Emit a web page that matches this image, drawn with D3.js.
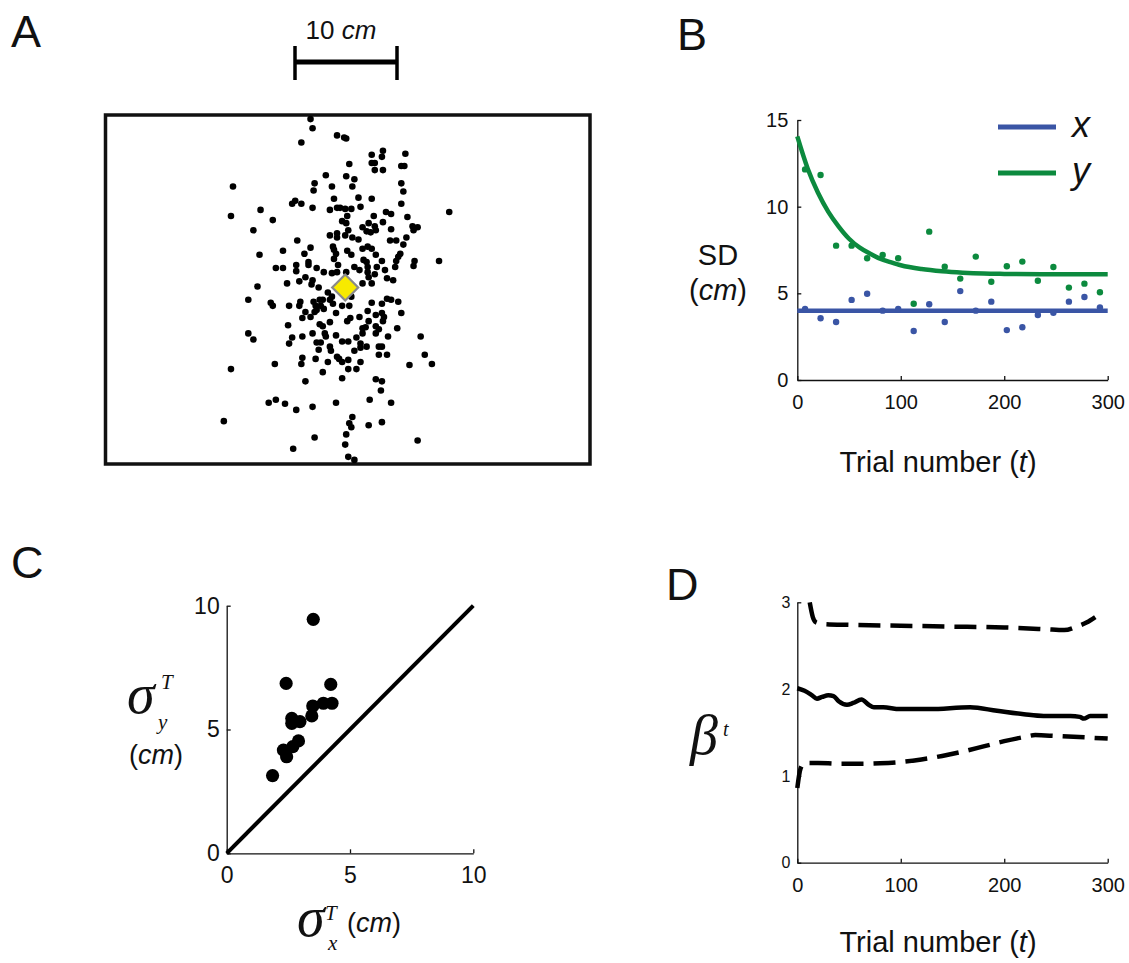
<!DOCTYPE html>
<html>
<head>
<meta charset="utf-8">
<script src="https://cdn.jsdelivr.net/npm/d3@7"></script>
<style>
  body { margin: 0; background: #fff; }
  text { font-family: "Liberation Sans", Arial, Helvetica, sans-serif; fill: #111; }
  .serif { font-family: "Liberation Serif", "Times New Roman", serif; font-style: italic; }
</style>
</head>
<body>
<svg id="fig" width="1129" height="963"></svg>
<script>
// ---- data ----
// panel A: reach endpoints relative to the target (cm)
const endpoints = [
  [-3.4,16.5],[-3.2,15.6],[-0.8,14.9],[-0.1,14.7],[0.1,14.6],[-4.3,14.2],[3.7,13.4],[2.6,13.0],[3.6,12.8],[5.9,13.1],
  [2.6,12.2],[2.9,12.2],[0.4,12.1],[5.5,11.9],[5.8,11.9],[2.9,11.5],[3.7,11.5],[-1.9,11.0],[0.1,10.9],[0.9,10.6],
  [-3.0,10.2],[5.5,10.2],[-11.0,9.9],[-1.3,9.9],[0.7,9.9],[-3.1,9.5],[5.7,9.4],[1.3,8.8],[-1.1,8.7],[2.6,8.7],
  [-5.2,8.2],[-4.9,8.5],[-4.3,8.2],[5.5,8.2],[-3.2,7.8],[-8.3,7.6],[-1.5,7.6],[-0.8,7.8],[-0.5,7.8],[0.0,7.7],
  [0.6,7.7],[1.5,7.9],[-11.2,7.0],[-7.1,6.6],[0.2,7.0],[2.8,7.0],[4.0,7.4],[4.5,7.2],[6.1,6.9],[-0.3,6.5],
  [0.1,6.3],[3.7,6.4],[2.3,6.3],[-9.0,5.6],[1.7,5.9],[2.9,6.0],[2.1,5.5],[2.5,5.4],[3.0,5.6],[4.5,5.7],
  [6.6,6.0],[7.1,5.9],[6.7,5.6],[-1.5,5.1],[-0.8,5.3],[0.0,5.1],[0.3,5.6],[-4.7,4.6],[-0.8,4.9],[0.7,4.9],
  [1.3,4.7],[4.4,4.6],[5.0,4.6],[6.0,4.9],[-3.4,3.9],[-1.2,4.0],[-6.1,3.6],[0.2,3.6],[1.7,3.8],[2.2,4.0],
  [2.6,3.8],[5.7,4.2],[-8.4,3.2],[-4.0,3.3],[-1.1,3.7],[-0.9,3.3],[0.6,3.2],[3.0,3.2],[5.4,3.3],[5.2,3.0],
  [-3.6,2.5],[-1.1,2.8],[-3.6,2.2],[1.8,2.7],[2.1,2.5],[3.6,2.6],[5.0,2.6],[6.8,2.6],[9.2,2.6],[-6.8,1.9],
  [-6.1,1.9],[-4.8,2.2],[-2.8,1.9],[-0.7,2.2],[0.9,2.0],[1.4,1.7],[2.2,2.0],[3.9,1.7],[4.9,2.0],[6.7,2.1],
  [-4.8,1.6],[-2.1,1.5],[-1.3,1.4],[-0.8,1.5],[0.1,1.5],[2.2,1.5],[2.9,1.3],[-3.9,1.0],[-3.2,0.7],[2.3,1.0],
  [4.1,0.9],[4.7,0.7],[-5.7,0.4],[-4.5,0.6],[-3.3,0.3],[-2.6,0.0],[1.7,0.4],[2.6,0.4],[-8.6,0.1],[-1.7,-0.5],
  [-1.3,-0.9],[0.6,-0.9],[-2.2,-1.2],[-1.5,-1.2],[-2.5,-1.2],[-9.5,-1.2],[-7.3,-1.5],[-7.1,-1.8],[-5.5,-1.8],[-4.4,-1.4],
  [-4.5,-1.8],[-3.1,-1.4],[-2.9,-1.8],[-1.2,-1.6],[-0.3,-1.8],[0.4,-1.8],[2.6,-1.5],[3.6,-1.6],[4.1,-1.1],[4.5,-1.2],
  [5.2,-1.4],[-3.9,-2.4],[-2.8,-2.2],[-3.4,-2.9],[-4.2,-3.0],[-0.9,-2.5],[-3.0,-2.4],[1.4,-2.9],[2.2,-2.3],[3.0,-2.7],
  [3.6,-2.5],[3.8,-2.9],[5.5,-2.5],[-1.5,-3.4],[-2.5,-3.6],[-2.2,-3.8],[0.2,-3.3],[0.5,-3.0],[2.3,-3.3],[3.7,-3.3],
  [3.0,-3.8],[-5.6,-3.7],[2.0,-3.9],[1.7,-4.0],[3.3,-4.1],[5.1,-4.0],[-9.5,-4.5],[-9.0,-5.1],[-4.2,-4.8],[-3.2,-4.5],
  [-2.0,-4.5],[-1.9,-4.8],[-0.9,-4.7],[1.7,-4.5],[3.0,-4.5],[4.2,-4.8],[7.4,-4.8],[-5.2,-4.9],[-5.5,-5.5],[-2.8,-5.4],
  [-2.4,-5.4],[-0.3,-5.3],[0.3,-5.3],[1.1,-4.9],[1.5,-5.5],[2.1,-5.8],[3.3,-5.8],[3.6,-5.8],[-2.6,-6.1],[-1.5,-5.8],
  [-1.4,-6.2],[0.9,-6.2],[1.5,-5.9],[3.3,-6.6],[4.1,-6.6],[7.8,-6.6],[-4.2,-6.9],[-2.9,-7.0],[-0.8,-6.8],[-0.6,-7.0],
  [0.3,-7.1],[-0.3,-7.3],[-6.9,-7.5],[-4.3,-7.5],[-1.7,-7.3],[1.5,-7.3],[6.3,-7.6],[8.5,-7.5],[-11.2,-8.0],[-2.2,-8.3],
  [0.3,-8.0],[1.1,-8.0],[-0.3,-8.9],[-3.9,-9.2],[3.0,-9.0],[3.6,-9.2],[3.5,-10.1],[-7.5,-11.3],[-6.8,-11.0],[-5.9,-11.4],
  [-4.8,-12.0],[-3.2,-11.7],[-0.9,-11.3],[2.4,-11.0],[4.5,-11.3],[-11.9,-13.1],[0.7,-12.7],[0.4,-13.3],[0.6,-13.7],[2.3,-13.5],
  [3.6,-13.2],[0.1,-14.4],[-3.0,-14.7],[7.1,-15.0],[-5.1,-15.8],[0.0,-15.4],[0.3,-16.6],[0.9,-16.9],
  [10.2,7.4],[3.1,2.0],[-2.4,-1.8],[-2.1,-2.1]
];
const workspaceX = [-23.5, 24.0];   // cm
const workspaceY = [-17.3, 16.9];   // cm
const scaleBarCm = 10;

// panel B: SD per block of 15 trials
const blockTrials = [7.5,22.5,37.5,52.5,67.5,82.5,97.5,112.5,127.5,142.5,157.5,172.5,187.5,202.5,217.5,232.5,247.5,262.5,277.5,292.5];
const sdX = [4.10,3.56,3.35,4.62,4.98,4.00,4.10,2.83,4.37,3.35,5.13,4.00,4.52,2.88,3.04,3.75,3.88,4.52,4.79,4.19];
const sdY = [12.15,11.83,7.75,7.75,7.02,7.21,7.02,4.40,8.56,6.54,5.85,7.12,5.67,6.56,6.83,5.73,6.52,5.33,5.56,5.06];
const fitTrials = [0,10,20,30,40,50,60,70,80,90,100,120,140,160,180,200,250,300];
const fitY = [14.05,12.2,10.8,9.7,8.85,8.15,7.65,7.3,7.0,6.8,6.62,6.4,6.27,6.19,6.14,6.12,6.1,6.1];
const fitX = [4.0,4.0,4.0,4.0,4.0,4.0,4.0,4.0,4.0,4.0,4.0,4.0,4.0,4.0,4.0,4.0,4.0,4.0];
const sdTicks = [0,5,10,15];
const trialTicks = [0,100,200,300];

// panel C: per-subject sigma_x vs sigma_y (cm)
const sigmaX = [3.51,2.41,4.22,3.49,3.92,4.27,3.45,2.64,2.64,2.97,2.91,2.68,2.30,2.43,1.86];
const sigmaY = [9.45,6.86,6.82,5.95,6.06,6.06,5.55,5.45,5.25,5.32,4.54,4.31,4.17,3.90,3.14];
const sigmaTicks = [0,5,10];

// panel D: beta estimate and bounds over trials
const betaT = [0,7,14,19,24,30,35,40,48,54,62,69,74,83,99,128,167,193,219,238,264,273,277,283,300];
const betaMean = [2.01,1.98,1.93,1.89,1.91,1.93,1.92,1.86,1.82,1.84,1.88,1.82,1.79,1.79,1.77,1.77,1.79,1.75,1.71,1.69,1.69,1.68,1.66,1.69,1.69];
const upperT = [12,15,18,25,50,100,150,200,240,258,270,280,288];
const upperB = [3.0,2.83,2.77,2.75,2.74,2.73,2.72,2.71,2.69,2.68,2.72,2.77,2.83];
const lowerT = [0,3,7,20,40,60,80,100,120,140,160,180,200,220,230,250,300];
const lowerB = [0.86,1.08,1.15,1.15,1.14,1.14,1.145,1.16,1.19,1.23,1.28,1.34,1.40,1.45,1.47,1.46,1.43];
const betaTicks = [0,1,2,3];

const blue = '#3a55a5', green = '#0c8a3e';

// ---- drawing ----
const svg = d3.select('#fig');
svg.append('rect').attr('width', 1129).attr('height', 963).attr('fill', '#fff');

function panelLabel(txt, x, y) {
  svg.append('text').attr('x', x).attr('y', y).attr('font-size', 45).text(txt);
}
panelLabel('A', 11, 47);
panelLabel('B', 677, 50);
panelLabel('C', 11, 578);
panelLabel('D', 666, 600);

function styleAxis(g, fs) {
  g.select('.domain').attr('stroke', '#111').attr('stroke-width', 1.3);
  g.selectAll('.tick line').attr('stroke', '#111').attr('stroke-width', 1.3);
  g.selectAll('.tick text').attr('font-size', fs).attr('fill', '#111')
    .style('font-family', '"Liberation Sans", Arial, sans-serif');
}
const fmt = d3.format('d');

// Panel A
const xA = d3.scaleLinear().domain(workspaceX).range([105.5, 590]);
const yA = d3.scaleLinear().domain(workspaceY).range([464, 115]);
const gA = svg.append('g');
gA.append('rect')
  .attr('x', xA(workspaceX[0])).attr('y', yA(workspaceY[1]))
  .attr('width', xA(workspaceX[1]) - xA(workspaceX[0]))
  .attr('height', yA(workspaceY[0]) - yA(workspaceY[1]))
  .attr('fill', 'none').attr('stroke', '#111').attr('stroke-width', 3.5);
gA.selectAll('circle.ep').data(endpoints).enter().append('circle')
  .attr('class', 'ep')
  .attr('cx', d => xA(d[0])).attr('cy', d => yA(d[1]))
  .attr('r', 3.3).attr('fill', '#000');
const tx = xA(0), ty = yA(0), h = 13;
gA.append('path')
  .attr('d', `M${tx},${ty - h}L${tx + h},${ty}L${tx},${ty + h}L${tx - h},${ty}Z`)
  .attr('fill', '#f7ea00').attr('stroke', '#8a8a8a').attr('stroke-width', 2.2);
// scale bar
const bx0 = 295, barLen = xA(scaleBarCm) - xA(0), by = 62;
gA.append('line').attr('x1', bx0).attr('x2', bx0 + barLen).attr('y1', by).attr('y2', by)
  .attr('stroke', '#000').attr('stroke-width', 5);
[bx0, bx0 + barLen].forEach(x => gA.append('line')
  .attr('x1', x).attr('x2', x).attr('y1', by - 16).attr('y2', by + 18)
  .attr('stroke', '#000').attr('stroke-width', 3.5));
const sbt = gA.append('text').attr('x', bx0 + barLen / 2 - 5).attr('y', 39)
  .attr('text-anchor', 'middle').attr('font-size', 26);
sbt.append('tspan').text('10 ');
sbt.append('tspan').attr('font-style', 'italic').text('cm');

// Panel B
const xB = d3.scaleLinear().domain([0, 300]).range([797.3, 1107.7]);
const yB = d3.scaleLinear().domain([0, 15]).range([380, 120]);
const gB = svg.append('g');
gB.append('g').attr('transform', `translate(0,${yB(0)})`)
  .call(d3.axisBottom(xB).tickValues(trialTicks).tickFormat(fmt).tickSizeInner(-4).tickSizeOuter(0).tickPadding(15))
  .call(g => styleAxis(g, 20));
gB.append('g').attr('transform', `translate(${xB(0)},0)`)
  .call(d3.axisLeft(yB).tickValues(sdTicks).tickFormat(fmt).tickSizeInner(-4).tickSizeOuter(0).tickPadding(9))
  .call(g => styleAxis(g, 20));
const lineB = d3.line().curve(d3.curveMonotoneX);
gB.append('path').datum(fitTrials.map((t, i) => [xB(t), yB(fitX[i])]))
  .attr('d', lineB).attr('fill', 'none').attr('stroke', blue).attr('stroke-width', 4.5);
gB.append('path').datum(fitTrials.map((t, i) => [xB(t), yB(fitY[i])]))
  .attr('d', lineB).attr('fill', 'none').attr('stroke', green).attr('stroke-width', 4.5);
gB.selectAll('circle.sx').data(blockTrials).enter().append('circle')
  .attr('class', 'sx').attr('cx', d => xB(d)).attr('cy', (d, i) => yB(sdX[i]))
  .attr('r', 3.2).attr('fill', blue);
gB.selectAll('circle.sy').data(blockTrials).enter().append('circle')
  .attr('class', 'sy').attr('cx', d => xB(d)).attr('cy', (d, i) => yB(sdY[i]))
  .attr('r', 3.2).attr('fill', green);
// legend
[['x', blue, 127], ['y', green, 173]].forEach(([lab, col, y]) => {
  gB.append('line').attr('x1', 998).attr('x2', 1056).attr('y1', y).attr('y2', y)
    .attr('stroke', col).attr('stroke-width', 5);
  gB.append('text').attr('x', 1072).attr('y', y + 10).attr('font-size', 36)
    .attr('font-style', 'italic').text(lab);
});
gB.append('text').attr('x', 718).attr('y', 265).attr('text-anchor', 'middle')
  .attr('font-size', 29).text('SD');
const cmB = gB.append('text').attr('x', 718).attr('y', 300).attr('text-anchor', 'middle').attr('font-size', 29);
cmB.append('tspan').text('(');
cmB.append('tspan').attr('font-style', 'italic').text('cm');
cmB.append('tspan').text(')');
function trialLabel(g, y) {
  const t = g.append('text').attr('x', 938).attr('y', y).attr('text-anchor', 'middle').attr('font-size', 29);
  t.append('tspan').text('Trial number (');
  t.append('tspan').attr('font-style', 'italic').text('t');
  t.append('tspan').text(')');
}
trialLabel(gB, 472);

// Panel C
const xC = d3.scaleLinear().domain([0, 10]).range([226.7, 473.3]);
const yC = d3.scaleLinear().domain([0, 10]).range([853.3, 605.7]);
const gC = svg.append('g');
gC.append('g').attr('transform', `translate(0,${yC(0)})`)
  .call(d3.axisBottom(xC).tickValues(sigmaTicks).tickFormat(fmt).tickSizeInner(-4).tickSizeOuter(0).tickPadding(13))
  .call(g => styleAxis(g, 23));
gC.append('g').attr('transform', `translate(${xC(0)},0)`)
  .call(d3.axisLeft(yC).tickValues(sigmaTicks).tickFormat(fmt).tickSizeInner(-4).tickSizeOuter(0).tickPadding(7))
  .call(g => styleAxis(g, 23));
gC.append('line').attr('x1', xC(0)).attr('y1', yC(0)).attr('x2', xC(10)).attr('y2', yC(10))
  .attr('stroke', '#000').attr('stroke-width', 4);
gC.selectAll('circle.sg').data(sigmaX).enter().append('circle')
  .attr('class', 'sg').attr('cx', d => xC(d)).attr('cy', (d, i) => yC(sigmaY[i]))
  .attr('r', 6.6).attr('fill', '#000');
// y label
gC.append('text').attr('class', 'serif').attr('x', 127).attr('y', 713).attr('font-size', 56).text('σ');
gC.append('text').attr('class', 'serif').attr('x', 158).attr('y', 729).attr('font-size', 21).text('y');
gC.append('text').attr('class', 'serif').attr('x', 161).attr('y', 689).attr('font-size', 21).text('T');
const cmC = gC.append('text').attr('x', 156).attr('y', 764).attr('text-anchor', 'middle').attr('font-size', 27);
cmC.append('tspan').text('(');
cmC.append('tspan').attr('font-style', 'italic').text('cm');
cmC.append('tspan').text(')');
// x label
gC.append('text').attr('class', 'serif').attr('x', 297).attr('y', 936).attr('font-size', 56).text('σ');
gC.append('text').attr('class', 'serif').attr('x', 328).attr('y', 950).attr('font-size', 21).text('x');
gC.append('text').attr('class', 'serif').attr('x', 325).attr('y', 920).attr('font-size', 21).text('T');
const cmCx = gC.append('text').attr('x', 347).attr('y', 932).attr('font-size', 27);
cmCx.append('tspan').text('(');
cmCx.append('tspan').attr('font-style', 'italic').text('cm');
cmCx.append('tspan').text(')');

// Panel D
const xD = d3.scaleLinear().domain([0, 300]).range([797.3, 1107.7]);
const yD = d3.scaleLinear().domain([0, 3]).range([862.7, 602.3]);
const gD = svg.append('g');
gD.append('g').attr('transform', `translate(0,${yD(0)})`)
  .call(d3.axisBottom(xD).tickValues(trialTicks).tickFormat(fmt).tickSizeInner(-4).tickSizeOuter(0).tickPadding(15))
  .call(g => styleAxis(g, 20));
gD.append('g').attr('transform', `translate(${xD(0)},0)`)
  .call(d3.axisLeft(yD).tickValues(betaTicks).tickFormat(fmt).tickSizeInner(-4).tickSizeOuter(0).tickPadding(7))
  .call(g => styleAxis(g, 16));
const lineD = d3.line().x(d => xD(d[0])).y(d => yD(d[1])).curve(d3.curveMonotoneX);
gD.append('path').datum(betaT.map((t, i) => [t, betaMean[i]]))
  .attr('d', lineD).attr('fill', 'none').attr('stroke', '#000').attr('stroke-width', 4.5);
gD.append('path').datum(upperT.map((t, i) => [t, upperB[i]]))
  .attr('d', lineD).attr('fill', 'none').attr('stroke', '#000').attr('stroke-width', 4.5)
  .attr('stroke-dasharray', '22,10');
gD.append('path').datum(lowerT.map((t, i) => [t, lowerB[i]]))
  .attr('d', lineD).attr('fill', 'none').attr('stroke', '#000').attr('stroke-width', 4.5)
  .attr('stroke-dasharray', '22,10');
gD.append('text').attr('class', 'serif').attr('x', 690).attr('y', 754).attr('font-size', 56).text('β');
gD.append('text').attr('class', 'serif').attr('x', 723).attr('y', 736).attr('font-size', 20).text('t');
trialLabel(gD, 952);
</script>
</body>
</html>
